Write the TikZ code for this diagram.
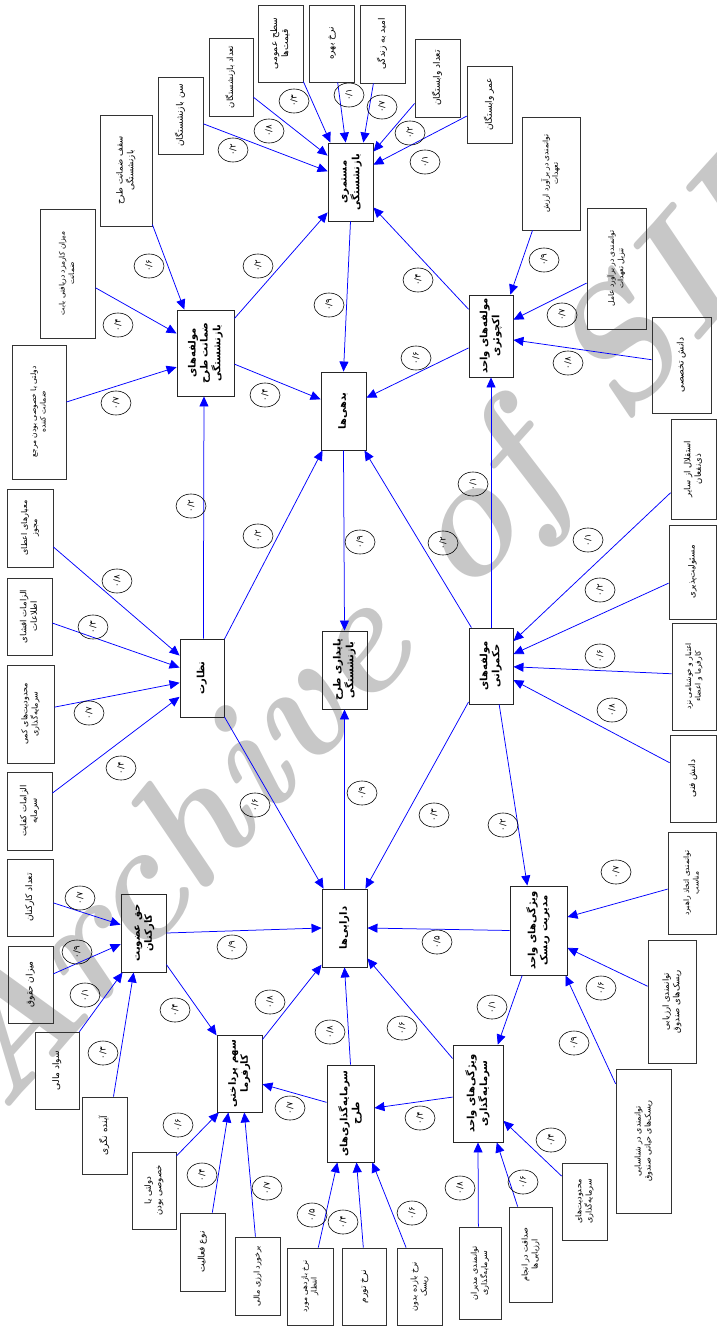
\documentclass[tikz,border=0pt]{standalone}
\usepackage{fontspec}
\usepackage{graphicx}
\usetikzlibrary{arrows.meta,shapes.geometric}
\TeXXeTstate=1
\newfontfamily\fa[Script=Arabic]{DejaVu Sans}
\newcommand\RL[1]{\beginR #1\endR}
\newcommand\vt[1]{\rotatebox{90}{\begin{tabular}{@{}c@{}}#1\end{tabular}}}
\newcommand\lab[3]{\node[lab] (#1) at (#2) {\rotatebox{90}{#3}};}
\begin{document}
\begin{tikzpicture}[x=1pt,y=-1pt,
  box/.style={draw=black!80, line width=0.8pt, inner sep=1pt, font=\fa\fontsize{9}{11}\selectfont},
  fsm/.style={font=\fa\fontsize{8.5}{10.5}\selectfont},
  fsb/.style={font=\fa\fontsize{8}{10}\selectfont},
  fsc/.style={font=\fa\fontsize{7.5}{9.5}\selectfont},
  cbox/.style={draw=black!85, line width=0.9pt, inner sep=1pt, font=\fa\bfseries\fontsize{10}{12}\selectfont},
  lab/.style={ellipse, draw=black, line width=0.6pt, minimum width=30, minimum height=24, inner sep=0pt, font=\fa\fontsize{8.5}{9}\selectfont},
  arr/.style={draw=blue, line width=0.75pt, -{Triangle[length=10pt,width=9pt]}}]
\useasboundingbox (0,0) rectangle (717,1327);
% watermark
\node[rotate=48, text=black!22, font=\fontsize{165}{165}\selectfont\bfseries\itshape] (wm) at (390,622) {Archive of SID};

% central nodes
\node[cbox, minimum width=45, minimum height=78] (M) at (350.5,182) {\vt{\RL{مستمری}\\\RL{بازنشستگی}}};
\node[cbox, minimum width=45, minimum height=78] (B) at (343.5,411) {\vt{\RL{بدهی‌ها}}};
\node[cbox, minimum width=45, minimum height=78] (P) at (344.5,670) {\vt{\RL{پایداری طرح}\\\RL{بازنشستگی}}};
\node[cbox, minimum width=45, minimum height=78] (D) at (344.5,928) {\vt{\RL{دارایی‌ها}}};
\node[cbox, minimum width=57, minimum height=86] (Z) at (205.5,353) {\vt{\RL{مولفه‌های}\\\RL{ضمانت طرح}\\\RL{بازنشستگی}}};
\node[cbox, minimum width=44, minimum height=78] (N) at (202,678) {\vt{\RL{نظارت}}};
\node[cbox, minimum width=45, minimum height=78] (H) at (143.5,933) {\vt{\RL{حق عضویت}\\\RL{کارکنان}}};
\node[cbox, minimum width=45, minimum height=77] (S) at (239.5,1073.5) {\vt{\RL{سهم پرداختی}\\\RL{کارفرما}}};
\node[cbox, minimum width=47, minimum height=97] (T) at (350.5,1113.5) {\vt{\RL{سرمایه‌گذاری‌های}\\\RL{طرح}}};
\node[cbox, minimum width=50, minimum height=97] (V) at (478,1093.5) {\vt{\RL{ویژگی‌های واحد}\\\RL{سرمایه‌گذاری}}};
\node[cbox, minimum width=57, minimum height=89] (R) at (538.5,930.5) {\vt{\RL{ویژگی‌های واحد}\\\RL{مدیریت ریسک}}};
\node[cbox, minimum width=44, minimum height=76] (G) at (491,666) {\vt{\RL{مولفه‌های}\\\RL{حکمرانی}}};
\node[cbox, minimum width=44, minimum height=82] (A) at (491,336) {\vt{\RL{مولفه‌های واحد}\\\RL{اکچوئری}}};

% peripheral nodes
\node[box, minimum width=45, minimum height=77] (a) at (180.5,115.5) {\vt{\RL{سن بازنشستگان}}};
\node[box, fsm, minimum width=44, minimum height=78] (b) at (231,77) {\vt{\RL{تعداد بازنشستگان}}};
\node[box, minimum width=45, minimum height=77] (c) at (280.5,43.5) {\vt{\RL{سطح عمومی}\\\RL{قیمت‌ها}}};
\node[box, minimum width=45, minimum height=77] (d) at (331.5,43.5) {\vt{\RL{نرخ بهره}}};
\node[box, minimum width=45, minimum height=78] (e) at (382.5,44) {\vt{\RL{امید به زندگی}}};
\node[box, minimum width=45, minimum height=78] (f) at (437.5,78) {\vt{\RL{تعداد وابستگان}}};
\node[box, minimum width=45, minimum height=77] (g) at (489.5,104.5) {\vt{\RL{عمر وابستگان}}};
\node[box, fsm, minimum width=52, minimum height=111] (h) at (126,170.5) {\vt{\RL{سقف ضمانت طرح}\\\RL{بازنشستگی}}};
\node[box, fsc, minimum width=55, minimum height=129] (i) at (67.5,273.5) {\vt{\RL{میزان کارمزد دریافتی بابت}\\\RL{ضمانت}}};
\node[box, fsc, minimum width=54, minimum height=134] (j) at (39,412) {\vt{\RL{دولتی یا خصوصی بودن مرجع}\\\RL{ضمانت کننده}}};
\node[box, fsb, minimum width=46, minimum height=78] (k) at (30,528) {\vt{\RL{معیارهای اعطای}\\\RL{مجوز}}};
\node[box, fsm, minimum width=45, minimum height=77] (l) at (29.5,616.5) {\vt{\RL{الزامات افشای}\\\RL{اطلاعات}}};
\node[box, fsb, minimum width=47, minimum height=98] (m) at (30.5,714) {\vt{\RL{محدودیت‌های کمی}\\\RL{سرمایه‌گذاری}}};
\node[box, fsm, minimum width=45, minimum height=78] (n) at (29.5,811) {\vt{\RL{الزامات کفایت}\\\RL{سرمایه}}};
\node[box, minimum width=46, minimum height=77] (o) at (30,897.5) {\vt{\RL{تعداد کارکنان}}};
\node[box, minimum width=45, minimum height=77] (p) at (30.5,984.5) {\vt{\RL{میزان حقوق}}};
\node[box, minimum width=44, minimum height=77] (q) at (57,1070.5) {\vt{\RL{سواد مالی}}};
\node[box, minimum width=45, minimum height=77] (r) at (104.5,1135.5) {\vt{\RL{آینده نگری}}};
\node[box, fsm, minimum width=44, minimum height=77] (s) at (154,1190.5) {\vt{\RL{دولتی یا}\\\RL{خصوصی بودن}}};
\node[box, minimum width=45, minimum height=78] (t) at (202.5,1252) {\vt{\RL{نوع فعالیت}}};
\node[box, fsb, minimum width=45, minimum height=78] (u) at (257.5,1276) {\vt{\RL{برخورد ارزی مالی}}};
\node[box, fsc, minimum width=46, minimum height=77] (v) at (310,1286.5) {\vt{\RL{نرخ بازدهی مورد}\\\RL{انتظار}}};
\node[box, minimum width=44, minimum height=77] (w) at (364,1286.5) {\vt{\RL{نرخ تورم}}};
\node[box, fsb, minimum width=45, minimum height=77] (x) at (419.5,1286.5) {\vt{\RL{نرخ بازده بدون}\\\RL{ریسک}}};
\node[box, fsb, minimum width=42, minimum height=92] (y) at (480,1273) {\vt{\RL{توانمندی مدیران}\\\RL{سرمایه‌گذاری}}};
\node[box, fsb, minimum width=43, minimum height=95] (z) at (530.5,1254.5) {\vt{\RL{صداقت در انجام}\\\RL{ارزیابی‌ها}}};
\node[box, fsb, minimum width=45, minimum height=77] (aa) at (584.5,1201.5) {\vt{\RL{محدودیت‌های}\\\RL{سرمایه‌گذاری}}};
\node[box, fsc, minimum width=48, minimum height=102] (bb) at (692,883) {\vt{\RL{توانمندی اتخاذ راهبرد}\\\RL{مناسب}}};
\node[box, fsm, minimum width=48, minimum height=123] (cc) at (672,1001.5) {\vt{\RL{توانمندی ارزیابی}\\\RL{ریسک‌های صندوق}}};
\node[box, fsb, minimum width=55, minimum height=144] (dd) at (643.5,1141) {\vt{\RL{توانمندی در شناسایی}\\\RL{ریسک‌های حیاتی صندوق}}};
\node[box, fsm, minimum width=45, minimum height=100] (ee) at (693.5,469) {\vt{\RL{استقلال از سایر}\\\RL{ذی‌نفعان}}};
\node[box, fsm, minimum width=47, minimum height=94] (ff) at (692.5,572) {\vt{\RL{مسئولیت‌پذیری}}};
\node[box, fsc, minimum width=44, minimum height=107] (gg) at (694,676.5) {\vt{\RL{اعتبار و خوشنامی نزد}\\\RL{کارفرما و اعضاء}}};
\node[box, minimum width=46, minimum height=87] (hh) at (693,778.5) {\vt{\RL{دانش فنی}}};
\node[box, fsc, minimum width=58, minimum height=113] (ii) at (551,173.5) {\vt{\RL{توانمندی در برآورد ارزش}\\\RL{تعهدات}}};
\node[box, fsc, minimum width=59, minimum height=121] (jj) at (616.5,268.5) {\vt{\RL{توانمندی در برآورد عامل}\\\RL{تنزیل تعهدات}}};
\node[box, minimum width=59, minimum height=96] (kk) at (681.5,365) {\vt{\RL{دانش تخصصی}}};

% connectors
\draw[arr] (a.-20.7) -- (M.155.1);
\draw[arr] (b.-42.3) -- (M.131.9);
\draw[arr] (c.-59.7) -- (M.117.1);
\draw[arr] (d.-81.9) -- (M.97.8);
\draw[arr] (e.257.7) -- (M.72.6);
\draw[arr] (f.228) -- (M.53.1);
\draw[arr] (g.207.1) -- (M.37.1);
\draw[arr] (Z.50.8) -- (M.233.1);
\draw[arr] (A.130.2) -- (M.312);
\draw[arr] (M.south) -- (B.north);
\draw[arr] (Z.-21.1) -- (B.153.9);
\draw[arr] (A.208.6) -- (B.30);
\draw[arr] (N.60.6) -- (B.242.3);
\draw[arr] (G.117.8) -- (B.-62);
\draw[arr] (B.south) -- (P.north);
\draw[arr] (D.north) -- (P.south);
\draw[arr] (N.-60.6) -- (D.118);
\draw[arr] (G.238) -- (D.62);
\draw[arr] (H.east) -- (D.west);
\draw[arr] (S.56.1) -- (D.238.7);
\draw[arr] (T.north) -- (D.south);
\draw[arr] (V.126.7) -- (D.-53.1);
\draw[arr] (R.west) -- (D.east);
\draw[arr] (G.-78.1) -- (R.104.5);
\draw[arr] (G.north) -- (A.south);
\draw[arr] (R.250.8) -- (V.68.6);
\draw[arr] (V.188) -- (T.13.2);
\draw[arr] (T.155.9) -- (S.-25);
\draw[arr] (H.-54.9) -- (S.121.6);
\draw[arr] (N.88) -- (Z.-92);
\draw[arr] (k.-39.6) -- (N.135);
\draw[arr] (l.-16.1) -- (N.155.6);
\draw[arr] (m.16.6) -- (N.192.8);
\draw[arr] (n.38.7) -- (N.220.8);
\draw[arr] (h.-64.9) -- (Z.116.6);
\draw[arr] (i.-27.8) -- (Z.146.3);
\draw[arr] (j.20.3) -- (Z.206.2);
\draw[arr] (o.-13.4) -- (H.160.4);
\draw[arr] (p.25) -- (H.206.1);
\draw[arr] (q.60.3) -- (H.242.3);
\draw[arr] (r.77.7) -- (H.256.3);
\draw[arr] (s.57.5) -- (S.242);
\draw[arr] (t.76.3) -- (S.254.7);
\draw[arr] (u.93.7) -- (S.-83.3);
\draw[arr] (v.78.3) -- (T.255.5);
\draw[arr] (w.91.5) -- (T.-83.5);
\draw[arr] (x.109.3) -- (T.-66.1);
\draw[arr] (y.92.5) -- (V.south);
\draw[arr] (z.105.9) -- (V.-69.6);
\draw[arr] (aa.132.6) -- (V.-47.7);
\draw[arr] (bb.194) -- (R.25.3);
\draw[arr] (cc.148.9) -- (R.-31.6);
\draw[arr] (dd.116.2) -- (R.-59.2);
\draw[arr] (ee.226.8) -- (G.48.7);
\draw[arr] (ff.205.1) -- (G.28.6);
\draw[arr] (gg.173.5) -- (G.-2.6);
\draw[arr] (hh.146) -- (G.-32.5);
\draw[arr] (ii.252.3) -- (A.65.1);
\draw[arr] (jj.206.2) -- (A.36);
\draw[arr] (kk.170.4) -- (A.-10.3);

% labels
\lab{L1}{233,150}{۰/۲}
\lab{L2}{269,131}{۰/۸}
\lab{L3}{294,101}{۰/۳}
\lab{L4}{349,95}{۰/۱}
\lab{L5}{382,107}{۰/۷}
\lab{L6}{410,133}{۰/۲}
\lab{L7}{425,162}{۰/۱}
\lab{L8}{258,266}{۰/۲}
\lab{L9}{418,280}{۰/۴}
\lab{L10}{329,305}{۰/۹}
\lab{L11}{265,395}{۰/۴}
\lab{L12}{416,358}{۰/۶}
\lab{L13}{258,536}{۰/۲}
\lab{L14}{443,543}{۰/۲}
\lab{L15}{360,542}{۰/۹}
\lab{L16}{473,484}{۰/۱}
\lab{L17}{149,266}{۰/۶}
\lab{L18}{118,325}{۰/۴}
\lab{L19}{116,403}{۰/۷}
\lab{L20}{191,506}{۰/۲}
\lab{L21}{117,581}{۰/۸}
\lab{L22}{93,627}{۰/۳}
\lab{L23}{89,713}{۰/۷}
\lab{L24}{121,768}{۰/۴}
\lab{L25}{255,805}{۰/۶}
\lab{L26}{362,793}{۰/۹}
\lab{L27}{434,815}{۰/۳}
\lab{L28}{503,825}{۰/۲}
\lab{L29}{588,540}{۰/۱}
\lab{L30}{600,590}{۰/۲}
\lab{L31}{600,656}{۰/۶}
\lab{L32}{612,710}{۰/۸}
\lab{L33}{544,260}{۰/۹}
\lab{L34}{562,315}{۰/۷}
\lab{L35}{568,363}{۰/۸}
\lab{L36}{80,898}{۰/۷}
\lab{L37}{77,952}{۰/۹}
\lab{L38}{85,995}{۰/۱}
\lab{L39}{103,1053}{۰/۳}
\lab{L40}{232,947}{۰/۹}
\lab{L41}{437,942}{۰/۵}
\lab{L42}{175,1010}{۰/۴}
\lab{L43}{270,1002}{۰/۸}
\lab{L44}{330,1032}{۰/۸}
\lab{L45}{402,1028}{۰/۶}
\lab{L46}{492,1007}{۰/۱}
\lab{L47}{616,872}{۰/۷}
\lab{L48}{601,988}{۰/۶}
\lab{L49}{574,1043}{۰/۹}
\lab{L50}{178,1125}{۰/۶}
\lab{L51}{202,1175}{۰/۴}
\lab{L52}{267,1188}{۰/۷}
\lab{L53}{290,1108}{۰/۷}
\lab{L54}{420,1118}{۰/۴}
\lab{L55}{312,1215}{۰/۵}
\lab{L56}{343,1222}{۰/۴}
\lab{L57}{412,1213}{۰/۶}
\lab{L58}{460,1188}{۰/۸}
\lab{L59}{523,1182}{۰/۶}
\lab{L60}{551,1140}{۰/۴}
\end{tikzpicture}
\end{document}
